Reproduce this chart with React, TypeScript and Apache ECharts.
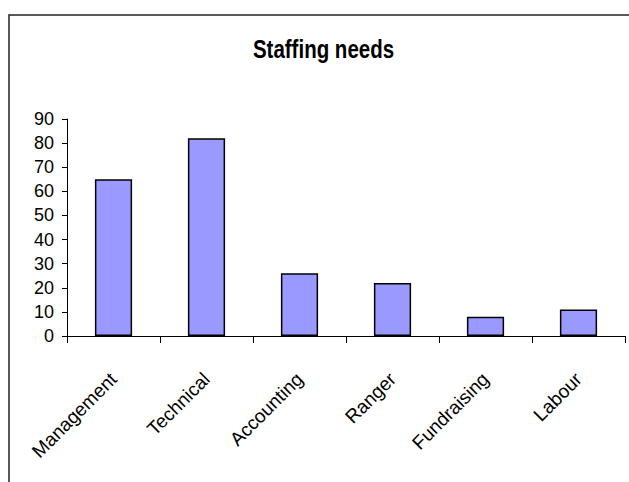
import React, { useEffect, useRef } from "react";
import * as echarts from "echarts";

const categories = ["Management", "Technical", "Accounting", "Ranger", "Fundraising", "Labour"];
const values = [65, 82, 26, 22, 8, 11];
const titleText = "Staffing needs";

export default function App() {
  const ref = useRef<HTMLDivElement>(null);
  useEffect(() => {
    document.body.style.margin = "0";
    const chart = echarts.init(ref.current!, null, { renderer: "svg" });
    chart.setOption({
      animation: false,
      backgroundColor: "#ffffff",
      textStyle: { fontFamily: "Liberation Sans, Arial, sans-serif" },
      graphic: [
        {
          type: "rect",
          shape: { x: 9, y: 15, width: 700, height: 600 },
          style: { fill: "none", stroke: "#222", lineWidth: 1.5 },
          silent: true,
        },
        {
          type: "text",
          x: 323.5,
          y: 49,
          scaleX: 0.82,
          style: {
            text: titleText,
            font: "bold 25px 'Liberation Sans', Arial, sans-serif",
            fill: "#000",
            textAlign: "center",
            textVerticalAlign: "middle",
          },
        },
      ],
      grid: { left: 67, right: 4, top: 119, bottom: 146, containLabel: false },
      xAxis: {
        type: "category",
        data: categories,
        axisLine: { lineStyle: { color: "#000", width: 1 } },
        axisTick: { show: true, length: 7, lineStyle: { color: "#000" } },
        axisLabel: {
          rotate: 45,
          margin: 40,
          fontSize: 19,
          color: "#000",
          interval: 0,
          fontFamily: "Liberation Sans, Arial, sans-serif",
        },
        splitLine: { show: false },
      },
      yAxis: {
        type: "value",
        min: 0,
        max: 90,
        interval: 10,
        axisLine: { show: true, lineStyle: { color: "#000", width: 1 } },
        axisTick: { show: true, length: 5, lineStyle: { color: "#000" } },
        axisLabel: {
          margin: 13,
          fontSize: 18,
          color: "#000",
          fontFamily: "Liberation Sans, Arial, sans-serif",
        },
        splitLine: { show: false },
      },
      series: [
        {
          type: "bar",
          data: values,
          barWidth: "40%",
          itemStyle: { color: "#9999FF", borderColor: "#000", borderWidth: 1.5 },
        },
      ],
    });
    return () => chart.dispose();
  }, []);
  return <div ref={ref} style={{ width: 629, height: 482 }} />;
}
